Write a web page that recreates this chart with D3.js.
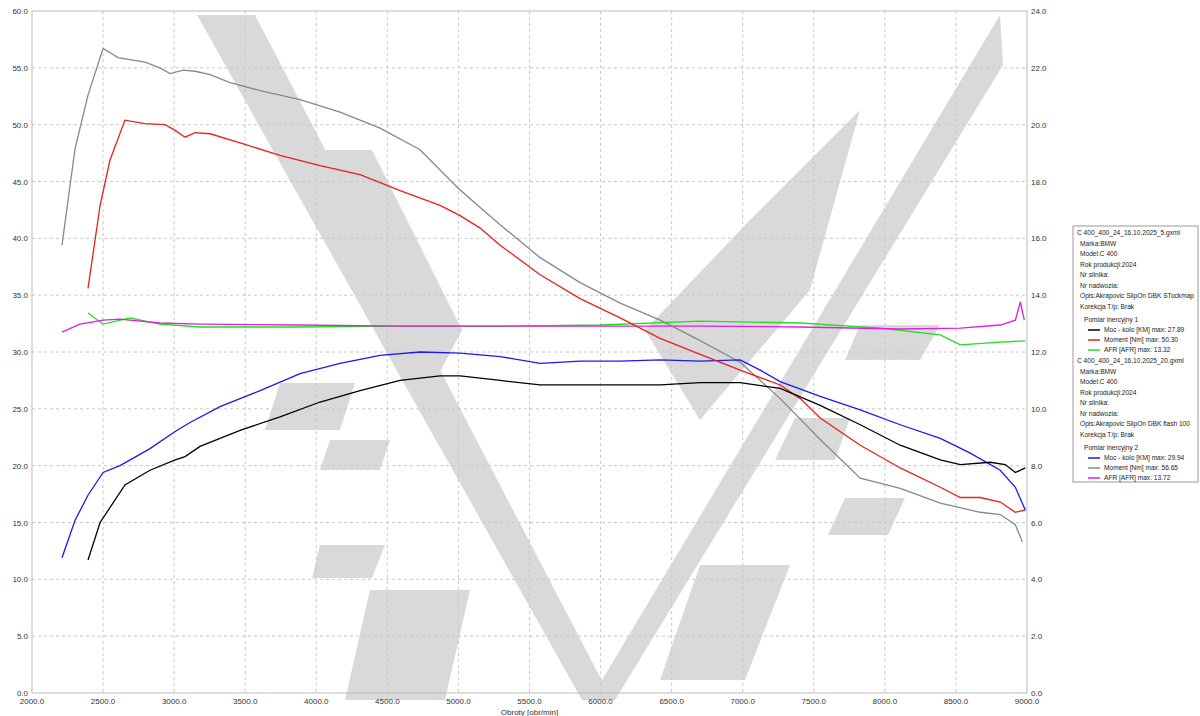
<!DOCTYPE html>
<html><head><meta charset="utf-8">
<script src="https://cdn.jsdelivr.net/npm/d3@7/dist/d3.min.js"></script>
<style>body{margin:0;background:#fff}svg{display:block}</style></head>
<body><svg id="c" width="1200" height="716"></svg>
<script>
const rpmTicks=[2000,2500,3000,3500,4000,4500,5000,5500,6000,6500,7000,7500,8000,8500,9000];
const leftTicks=[0,5,10,15,20,25,30,35,40,45,50,55,60];
const rightTicks=[0,2,4,6,8,10,12,14,16,18,20,22,24];
const power1=[[2394,11.7],[2479,15.0],[2654,18.3],[2830,19.6],[3007,20.5],[3077,20.8],[3182,21.7],[3464,23.1],[3745,24.3],[4027,25.6],[4308,26.6],[4590,27.5],[4871,27.9],[5012,27.9],[5293,27.5],[5575,27.1],[5997,27.1],[6419,27.1],[6701,27.3],[6982,27.3],[7264,26.8],[7545,25.3],[7827,23.6],[8108,21.8],[8390,20.5],[8531,20.1],[8742,20.3],[8847,20.1],[8918,19.4],[8988,19.8]];
const torque1=[[2394,35.6],[2479,42.9],[2549,46.9],[2654,50.4],[2795,50.1],[2936,50.0],[3007,49.5],[3077,48.9],[3147,49.3],[3253,49.2],[3464,48.4],[3745,47.3],[4027,46.4],[4308,45.6],[4590,44.2],[4871,42.9],[5012,42.0],[5153,40.9],[5293,39.4],[5575,36.8],[5856,34.7],[6138,33.0],[6419,31.2],[6701,29.8],[6982,28.4],[7264,27.1],[7405,25.9],[7545,24.2],[7827,21.8],[8108,19.8],[8390,18.1],[8531,17.2],[8671,17.2],[8812,16.8],[8918,15.9],[8988,16.1]];
const afr1=[[2394,13.37],[2500,12.98],[2690,13.2],[2900,12.98],[3182,12.88],[3886,12.88],[4590,12.91],[5293,12.91],[5997,12.95],[6701,13.09],[7405,13.02],[7968,12.84],[8390,12.6],[8531,12.25],[8812,12.35],[8988,12.39]];
const power2=[[2211,11.9],[2303,15.2],[2394,17.4],[2500,19.4],[2619,20.0],[2830,21.5],[3007,23.0],[3112,23.8],[3323,25.2],[3605,26.6],[3886,28.1],[4167,29.0],[4449,29.7],[4730,30.0],[5012,29.9],[5293,29.6],[5575,29.0],[5856,29.2],[6138,29.2],[6419,29.3],[6701,29.2],[6982,29.3],[7123,28.4],[7264,27.4],[7545,26.1],[7827,24.9],[8108,23.6],[8390,22.4],[8601,21.1],[8812,19.6],[8918,18.1],[8988,16.1]];
const torque2=[[2211,39.4],[2303,47.9],[2394,52.6],[2500,56.7],[2605,55.9],[2795,55.5],[2900,55.0],[2971,54.5],[3063,54.8],[3147,54.7],[3253,54.4],[3393,53.7],[3605,53.0],[3886,52.2],[4167,51.1],[4449,49.7],[4730,47.8],[4998,44.4],[5293,41.2],[5575,38.3],[5856,36.1],[6138,34.3],[6419,32.8],[6701,31.0],[6982,29.1],[7264,25.9],[7545,22.3],[7827,18.9],[8108,18.0],[8390,16.7],[8671,15.9],[8812,15.7],[8918,14.8],[8967,13.3]];
const afr2=[[2211,12.7],[2338,12.98],[2500,13.12],[2619,13.16],[2900,13.02],[3182,12.98],[3886,12.95],[4590,12.91],[5293,12.91],[5997,12.91],[6701,12.91],[7405,12.88],[8108,12.81],[8531,12.84],[8812,12.95],[8918,13.12],[8953,13.76],[8981,13.12]];
const legendLines1=["C 400_400_24_16.10.2025_5.gxml","Marka:BMW","Model:C 400","Rok produkcji:2024","Nr silnika:","Nr nadwozia:","Opis:Akrapovic SlipOn DBK STockmap","Korekcja T/p: Brak"];
const legendLines2=["C 400_400_24_16.10.2025_20.gxml","Marka:BMW","Model:C 400","Rok produkcji:2024","Nr silnika:","Nr nadwozia:","Opis:Akrapovic SlipOn DBK flash 100","Korekcja T/p: Brak"];
const series1=[["Moc - kolo [KM] max: 27.89","#000"],["Moment [Nm] max: 50.30","#e8211c"],["AFR [AFR] max: 13.32","#22dd22"]];
const series2=[["Moc - kolo [KM] max: 29.94","#1a1aee"],["Moment [Nm] max: 56.65","#888"],["AFR [AFR] max: 13.72","#e01fe0"]];

const svg=d3.select("#c");
const L=32,R=1027,T=11,B=693;
const x=d3.scaleLinear().domain([2000,9000]).range([L,R]);
const yl=d3.scaleLinear().domain([0,60]).range([B,T]);
const yr=d3.scaleLinear().domain([0,24]).range([B,T]);
const font="Liberation Sans";
// watermark
const wm=svg.append("g").attr("fill","#d9d9d9");
[[[197,15],[255,15],[612,700],[582,700]],
 [[1000,15],[1003,65],[615,700],[590,700]],
 [[310,150],[372,150],[462,330],[420,410]],
 [[750,220],[860,110],[810,290],[700,420],[645,330]],
 [[280,383],[355,383],[340,430],[265,430]],
 [[330,440],[390,440],[380,470],[320,470]],
 [[795,418],[850,418],[835,460],[775,460]],
 [[845,498],[905,498],[888,535],[828,535]],
 [[320,545],[385,545],[372,578],[312,578]],
 [[370,590],[470,590],[445,700],[345,700]],
 [[700,565],[790,565],[745,680],[660,680]],
 [[860,325],[940,325],[920,360],[845,360]]
].forEach(p=>wm.append("polygon").attr("points",p.map(d=>d.join(",")).join(" ")));
// grid
const g=svg.append("g").attr("stroke","#c8c8c8").attr("stroke-dasharray","3,3").attr("stroke-width",1);
rpmTicks.slice(1,-1).forEach(t=>g.append("line").attr("x1",x(t)).attr("x2",x(t)).attr("y1",T).attr("y2",B));
leftTicks.slice(1,-1).forEach(t=>g.append("line").attr("y1",yl(t)).attr("y2",yl(t)).attr("x1",L).attr("x2",R));
svg.append("rect").attr("x",L).attr("y",T).attr("width",R-L).attr("height",B-T).attr("fill","none").attr("stroke","#bbb");
// axes labels
const tx=svg.append("g").attr("font-family",font).attr("font-size",8).attr("fill","#333");
rpmTicks.forEach(t=>tx.append("text").attr("x",x(t)).attr("y",B+11).attr("text-anchor","middle").text(t.toFixed(1)));
leftTicks.forEach(t=>tx.append("text").attr("x",L-4).attr("y",yl(t)+3).attr("text-anchor","end").text(t.toFixed(1)));
rightTicks.forEach(t=>tx.append("text").attr("x",R+4).attr("y",yr(t)+3).text(t.toFixed(1)));
tx.append("text").attr("x",x(5500)).attr("y",B+22).attr("text-anchor","middle").text("Obroty [obr/min]");
// lines
const mk=(data,ys,col)=>svg.append("path").datum(data).attr("fill","none").attr("stroke",col).attr("stroke-width",1.3)
  .attr("d",d3.line().x(d=>x(d[0])).y(d=>ys(d[1])));
mk(afr1,yr,"#22dd22");mk(afr2,yr,"#e01fe0");
mk(torque2,yl,"#888");mk(power2,yl,"#1a1aee");
mk(torque1,yl,"#e8211c");mk(power1,yl,"#000");
// legend
const lg=svg.append("g").attr("font-family",font).attr("font-size",6.6).attr("fill","#222");
lg.append("rect").attr("x",1073).attr("y",226).attr("width",125).attr("height",256).attr("fill","#fff").attr("stroke","#999");
let yy=235;
function block(lines,title,ser){
  lines.forEach((s,i)=>lg.append("text").attr("x",i?1080:1077).attr("y",yy+i*10.5).text(s));
  yy+=lines.length*10.5+3;
  lg.append("text").attr("x",1084).attr("y",yy).text(title);yy+=10;
  ser.forEach(([s,c])=>{lg.append("line").attr("x1",1088).attr("x2",1100).attr("y1",yy-2).attr("y2",yy-2).attr("stroke",c).attr("stroke-width",1.5);
    lg.append("text").attr("x",1104).attr("y",yy).text(s);yy+=10;});
}
block(legendLines1,"Pomiar inercyjny 1",series1);
yy+=1;
block(legendLines2,"Pomiar inercyjny 2",series2);
</script></body></html>
